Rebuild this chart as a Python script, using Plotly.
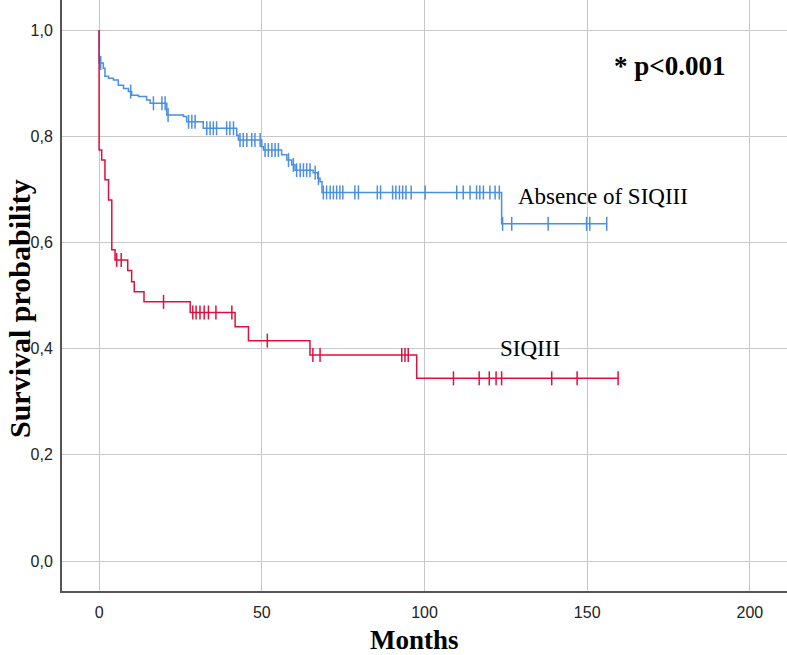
import numpy as np
import plotly.graph_objects as go

# ---- data ----
blue_name = "Absence of SIQIII"
blue_times = [0, 0, 1.3, 1.8, 2.9, 4.4, 5.9, 7.5, 9.0, 10.0, 12.1, 14.6, 15.7, 20.8, 25.9,
              26.9, 32.0, 42.3, 42.8, 50.0, 50.5, 56.1, 57.7, 59.2, 60.2, 65.8, 67.2,
              67.9, 68.5, 123.7]
blue_surv = [1.0, 0.938, 0.928, 0.913, 0.909, 0.906, 0.896, 0.890, 0.884, 0.877, 0.875,
             0.868, 0.862, 0.840, 0.837, 0.827, 0.815, 0.802, 0.793, 0.780, 0.774, 0.765,
             0.755, 0.746, 0.736, 0.731, 0.721, 0.714, 0.694, 0.635]
blue_censored = [0.5, 9.7, 16.7, 19.3, 20.3, 21.2, 27.5, 28.5, 29.5, 33.1, 34.1, 35.1, 36.1,
                 39.2, 40.2, 41.3, 43.3, 44.3, 45.4, 46.9, 47.9, 49.5, 51.0, 52.0, 53.1,
                 54.1, 55.1, 58.2, 59.7, 60.7, 61.8, 62.8, 63.8, 64.8, 66.4, 67.4, 68.9,
                 69.9, 71.0, 72.0, 73.0, 74.0, 74.9, 78.6, 79.7, 85.5, 86.5, 90.2, 91.2,
                 92.3, 93.3, 94.3, 95.9, 100.2, 109.9, 111.9, 114.0, 116.0, 117.0, 118.1,
                 120.1, 121.7, 123.0, 124.0, 126.8, 138.0, 149.8, 150.8, 156.0]

red_name = "SIQIII"
red_times = [0, 0, 0.8, 1.8, 2.9, 3.9, 4.9, 8.8, 10.0, 10.8, 13.8, 28.0, 41.8, 45.9,
             64.8, 97.6]
red_surv = [1.0, 0.774, 0.755, 0.718, 0.680, 0.586, 0.567, 0.547, 0.526, 0.507, 0.488,
            0.468, 0.441, 0.415, 0.388, 0.344]
red_censored = [5.4, 6.8, 19.8, 28.8, 29.8, 31.0, 32.3, 33.6, 35.9, 40.8, 51.7, 65.7, 67.9,
                93.0, 94.0, 95.0, 108.9, 116.8, 119.9, 122.0, 123.7, 139.1, 146.9, 159.5]

x_tick_vals = [0, 50, 100, 150, 200]
y_tick_vals = [0.0, 0.2, 0.4, 0.6, 0.8, 1.0]
y_tick_text = ["0,0", "0,2", "0,4", "0,6", "0,8", "1,0"]

p_text = "* p<0.001"
x_title = "Months"
y_title = "Survival probability"

BLUE = "#4a8fe0"
RED = "#e0103c"


def surv_at(times, surv, t):
    idx = np.searchsorted(np.asarray(times), t, side="right") - 1
    return np.asarray(surv)[idx]


fig = go.Figure()

for name, times, surv, cens, color in [
    (blue_name, blue_times, blue_surv, blue_censored, BLUE),
    (red_name, red_times, red_surv, red_censored, RED),
]:
    xs = list(times) + [max(cens)]
    ys = list(surv) + [surv[-1]]
    fig.add_trace(go.Scatter(x=xs, y=ys, mode="lines", line=dict(color=color, width=1.5, shape="hv"),
                             name=name, showlegend=False, hoverinfo="skip"))
    cy = [surv_at(times, surv, t) for t in cens]
    fig.add_trace(go.Scatter(x=cens, y=cy, mode="markers",
                             marker=dict(symbol="line-ns", size=10, line=dict(color=color, width=1.5)),
                             name=name + " censored", showlegend=False))

tick_font = dict(family="Liberation Sans Narrow, Arial Narrow, Liberation Sans, sans-serif",
                 size=16, color="#222222")

fig.update_layout(
    width=787, height=655,
    margin=dict(l=62, r=0, t=0, b=64),
    paper_bgcolor="white", plot_bgcolor="white",
    xaxis=dict(range=[-11.4, 211.4], tickvals=x_tick_vals, showgrid=True,
               gridcolor="#c8c8c8", gridwidth=1.3, zeroline=False,
               showline=True, linecolor="#555555", linewidth=2,
               ticks="", tickfont=tick_font, ticklabelstandoff=6),
    yaxis=dict(range=[-0.0565, 1.0565], tickvals=y_tick_vals, ticktext=y_tick_text,
               showgrid=True, gridcolor="#c8c8c8", gridwidth=1.3, zeroline=False,
               showline=True, linecolor="#555555", linewidth=2,
               ticks="", tickfont=tick_font, ticklabelstandoff=4),
    annotations=[
        dict(text="<b>" + p_text + "</b>", x=175.4, y=0.932, xref="x", yref="y",
             xanchor="center", yanchor="middle",
             showarrow=False, font=dict(family="Liberation Serif", size=27, color="black")),
        dict(text=blue_name, x=154.8, y=0.686, xref="x", yref="y",
             xanchor="center", yanchor="middle",
             showarrow=False, font=dict(family="Liberation Serif", size=23, color="black")),
        dict(text=red_name, x=132.4, y=0.400, xref="x", yref="y",
             xanchor="center", yanchor="middle",
             showarrow=False, font=dict(family="Liberation Serif", size=23, color="black")),
        dict(text="<b>" + x_title + "</b>", x=(414 - 62) / 725, y=(591 - 640) / 591,
             xref="paper", yref="paper", showarrow=False,
             xanchor="center", yanchor="middle",
             font=dict(family="Liberation Serif", size=27, color="black")),
        dict(text="<b>" + y_title + "</b>", x=(19 - 62) / 725, y=(591 - 309) / 591,
             xref="paper", yref="paper", showarrow=False, textangle=-90,
             xanchor="center", yanchor="middle",
             font=dict(family="Liberation Serif", size=30, color="black")),
    ],
)

fig.write_html("out.html", config={"displayModeBar": False},
               post_script="document.body.style.margin='0px';document.body.style.overflow='hidden';")
